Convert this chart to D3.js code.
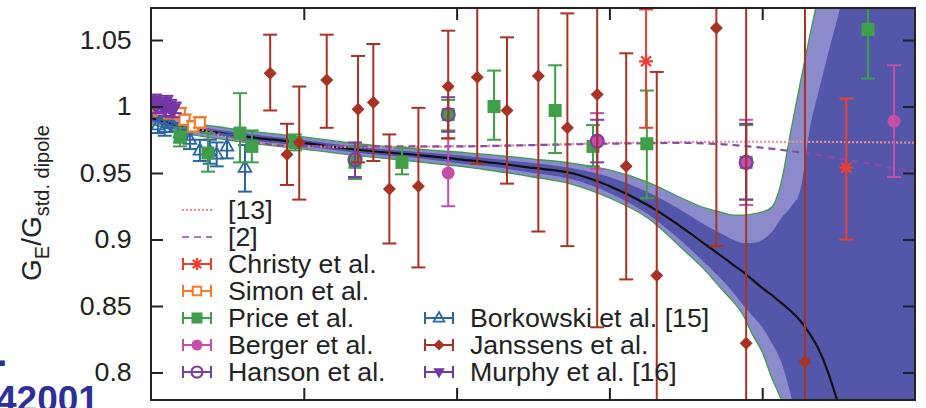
<!DOCTYPE html>
<html>
<head>
<meta charset="utf-8">
<script src="https://cdn.jsdelivr.net/npm/d3@7"></script>
<style>
  html, body { margin: 0; padding: 0; background: #fff; }
  svg { display: block; font-family: "Liberation Sans", Arial, Helvetica, sans-serif; }
</style>
</head>
<body>
<svg id="chart" width="926" height="408"></svg>
<script>
// ---------------- data ----------------
const yTicks = [0.8, 0.85, 0.9, 0.95, 1, 1.05];
const yTickLabels = ["0.8", "0.85", "0.9", "0.95", "1", "1.05"];
const xTicks = [0.2, 0.4, 0.6, 0.8];

// fit with statistical (inner) and total (outer) uncertainty bands, on a Q² grid
const bandQ = [0, 0.05, 0.1, 0.15, 0.2, 0.25, 0.3, 0.35, 0.4, 0.45, 0.5, 0.55, 0.6, 0.65, 0.7, 0.725,
  0.75, 0.7625, 0.775, 0.7875, 0.8, 0.8125, 0.825, 0.8375, 0.85, 0.8625, 0.875, 0.8875, 0.9, 0.95, 1.0];
const fitCentral = [0.9914, 0.9838, 0.9793, 0.9756, 0.9726, 0.9688, 0.9658, 0.9635, 0.9605, 0.9575, 0.9538,
  0.9500, 0.9402, 0.9259, 0.9071, 0.8966, 0.8861, 0.8808, 0.8756, 0.8696, 0.8636, 0.8582, 0.8523, 0.8462,
  0.8387, 0.8289, 0.8162, 0.7981, 0.7756, 0.6891, 0.5989];
const innerHi = [0.9944, 0.9861, 0.9816, 0.9778, 0.9748, 0.9711, 0.9680, 0.9658, 0.9635, 0.9605, 0.9575,
  0.9538, 0.9470, 0.9357, 0.9199, 0.9109, 0.9034, 0.8996, 0.8974, 0.8974, 0.8996, 0.9056, 0.9162, 0.9244,
  0.9372, 0.9838, 1.0139, 1.0425, 1.0695, 1.1929, 1.3057];
const innerLo = [0.9891, 0.9816, 0.9771, 0.9733, 0.9703, 0.9665, 0.9635, 0.9613, 0.9575, 0.9545, 0.9500,
  0.9455, 0.9350, 0.9192, 0.8959, 0.8823, 0.8680, 0.8598, 0.8508, 0.8425, 0.8342, 0.8222, 0.8079, 0.7831,
  0.7568, 0.7268, 0.6967, 0.6666, 0.6365, 0.5162, 0.4034];
const outerHi = [0.9966, 0.9883, 0.9838, 0.9801, 0.9771, 0.9733, 0.9703, 0.9680, 0.9658, 0.9635, 0.9605,
  0.9575, 0.9523, 0.9432, 0.9297, 0.9237, 0.9199, 0.9184, 0.9184, 0.9192, 0.9207, 0.9244, 0.9432, 0.9816,
  1.0184, 1.0538, 1.0876, 1.1252, 1.1628, 1.3056, 1.4560];
const outerLo = [0.9868, 0.9793, 0.9748, 0.9711, 0.9680, 0.9643, 0.9613, 0.9583, 0.9553, 0.9515, 0.9470,
  0.9417, 0.9312, 0.9162, 0.8906, 0.8771, 0.8606, 0.8530, 0.8432, 0.8282, 0.8154, 0.7959, 0.7793, 0.7568,
  0.7305, 0.7042, 0.6741, 0.6440, 0.6139, 0.4786, 0.3282];

// reference parametrisations
const lineQ = [0, 0.05, 0.1, 0.15, 0.2, 0.3, 0.4, 0.5, 0.6, 0.7, 0.75, 0.8, 0.85, 0.9, 0.95, 1.0];
const ref13 = [1.0, 0.986, 0.977, 0.972, 0.970, 0.9695, 0.970, 0.971, 0.9725, 0.9733, 0.9735, 0.9735,
  0.9734, 0.9733, 0.9731, 0.9728];
const ref2 = [1.0, 0.988, 0.978, 0.972, 0.970, 0.970, 0.970, 0.971, 0.972, 0.9726, 0.9715, 0.969, 0.9655,
  0.961, 0.956, 0.951];

// measurements: [Q², G_E/G_dipole, lower end of error bar, upper end of error bar]
const christy = [[0.648, 1.034, 0.984, 1.073], [0.910, 0.954, 0.900, 1.006]];
const simon = [[0.002, 1.001, 0.997, 1.005], [0.012, 0.997, 0.993, 1.001], [0.025, 0.995, 0.991, 0.999],
  [0.038, 0.995, 0.991, 0.999], [0.044, 0.990, 0.986, 0.994], [0.055, 0.985, 0.981, 0.989],
  [0.064, 0.988, 0.984, 0.992]];
const price = [[0.038, 0.977, 0.970, 0.984], [0.0746, 0.965, 0.951, 0.980], [0.1165, 0.980, 0.958, 1.010],
  [0.132, 0.970, 0.958, 0.982], [0.1885, 0.973, 0.967, 0.979], [0.267, 0.958, 0.9455, 0.970],
  [0.3285, 0.958, 0.949, 0.969], [0.389, 0.994, 0.982, 1.005], [0.449, 1.000, 0.975, 1.027],
  [0.529, 0.997, 0.965, 1.031], [0.5785, 0.970, 0.955, 0.986], [0.649, 0.972, 0.931, 1.012],
  [0.779, 0.958, 0.930, 0.986], [0.9385, 1.058, 1.021, 1.095]];
const berger = [[0.389, 0.950, 0.925, 0.976], [0.584, 0.974, 0.953, 0.995], [0.779, 0.958, 0.926, 0.990],
  [0.9725, 0.989, 0.947, 1.031]];
const hanson = [[0.267, 0.960, 0.947, 0.973], [0.389, 0.994, 0.981, 1.007], [0.584, 0.974, 0.958, 0.990],
  [0.779, 0.958, 0.930, 0.987]];
const borkowski = [[0.009, 0.986, 0.980, 0.992], [0.018, 0.984, 0.978, 0.990], [0.027, 0.987, 0.981, 0.993],
  [0.038, 0.980, 0.973, 0.987], [0.046, 0.982, 0.975, 0.989], [0.051, 0.975, 0.968, 0.982],
  [0.064, 0.967, 0.959, 0.975], [0.077, 0.966, 0.957, 0.975], [0.086, 0.964, 0.955, 0.973],
  [0.0995, 0.970, 0.961, 0.979], [0.123, 0.954, 0.936, 0.971]];
const janssens = [[0.156, 1.025, 0.997, 1.054], [0.178, 0.964, 0.941, 0.987], [0.194, 0.973, 0.930, 1.015],
  [0.230, 1.020, 0.984, 1.054], [0.271, 0.998, 0.958, 1.038], [0.291, 1.003, 0.959, 1.047],
  [0.312, 0.938, 0.897, 0.979], [0.350, 0.940, 0.879, 0.999], [0.389, 1.015, 0.976, 1.057],
  [0.427, 1.022, 0.957, 1.087], [0.466, 0.997, 0.942, 1.052], [0.507, 1.023, 0.906, 1.140],
  [0.545, 0.984, 0.895, 1.070], [0.584, 1.009, 0.834, 1.184], [0.622, 0.955, 0.870, 1.040],
  [0.662, 0.873, 0.720, 1.026], [0.740, 1.059, 0.895, 1.223], [0.779, 0.822, 0.500, 1.140],
  [0.856, 0.808, 0.480, 1.140]];
const murphy = [[0.002, 1.003, 0.999, 1.007], [0.005, 1.005, 1.001, 1.009], [0.007, 0.999, 0.995, 1.003],
  [0.012, 1.002, 0.998, 1.006], [0.016, 1.000, 0.996, 1.004], [0.018, 0.997, 0.993, 1.001],
  [0.020, 1.004, 1.000, 1.008], [0.025, 1.001, 0.997, 1.005], [0.028, 0.996, 0.992, 1.000],
  [0.031, 0.999, 0.995, 1.003]];

const legendLeft = ["[13]", "[2]", "Christy et al.", "Simon et al.", "Price et al.", "Berger et al.", "Hanson et al."];
const legendRight = ["Borkowski et al. [15]", "Janssens et al.", "Murphy et al. [16]"];

// ---------------- layout ----------------
const W = 926, H = 408;
const X0 = 151, X1 = 915, Y0 = 8, Y1 = 400;
const INK = "#222";
const FONT = "'Liberation Sans', Arial, Helvetica, sans-serif";
const STRETCH = 1.07;   // type is set slightly wide

const svg = d3.select("#chart");
const x = d3.scaleLinear().domain([0, 1]).range([X0, X1]);
const y = d3.scaleLinear().domain([0.77932, 1.07406]).range([Y1, Y0]);

svg.append("defs").append("clipPath").attr("id", "plotClip")
  .append("rect").attr("x", X0).attr("y", Y0).attr("width", X1 - X0).attr("height", Y1 - Y0);

const plot = svg.append("g").attr("clip-path", "url(#plotClip)");

// ---------------- fit bands ----------------
const bandRows = bandQ.map((q, i) => ({ q, c: fitCentral[i], il: innerLo[i], ih: innerHi[i], ol: outerLo[i], oh: outerHi[i] }));
const curve = d3.curveMonotoneX;
const area = (lo, hi) => d3.area().x(d => x(d.q)).y0(d => y(d[lo])).y1(d => y(d[hi])).curve(curve);
const edge = key => d3.line().x(d => x(d.q)).y(d => y(d[key])).curve(curve);

plot.append("path").datum(bandRows).attr("d", area("ol", "oh")).attr("fill", "#8b8bcb");
plot.append("path").datum(bandRows).attr("d", area("il", "ih")).attr("fill", "#5457a9");
["oh", "ol"].forEach(k => plot.append("path").datum(bandRows).attr("d", edge(k))
  .attr("fill", "none").attr("stroke", "#3f9c4c").attr("stroke-width", 1.3));
plot.append("path").datum(bandRows).attr("d", edge("c"))
  .attr("fill", "none").attr("stroke", "#111").attr("stroke-width", 2.2);

// ---------------- reference curves ----------------
const refLine = vals => d3.line().x((d, i) => x(lineQ[i])).y(d => y(d)).curve(curve)(vals);
plot.append("path").attr("d", refLine(ref13)).attr("fill", "none")
  .attr("stroke", "#f08a8a").attr("stroke-width", 2.2).attr("stroke-dasharray", "2,2");
plot.append("path").attr("d", refLine(ref2)).attr("fill", "none")
  .attr("stroke", "#8a4aa8").attr("stroke-width", 2.2).attr("stroke-dasharray", "7,5");

// ---------------- markers ----------------
const markers = {
  square: (g, c, r, filled) => g.append("rect").attr("x", -r).attr("y", -r).attr("width", 2 * r).attr("height", 2 * r)
    .attr("fill", filled ? c : "#fff").attr("stroke", c).attr("stroke-width", filled ? 0 : 2),
  circle: (g, c, r, filled) => g.append("circle").attr("r", r)
    .attr("fill", filled ? c : "none").attr("stroke", c).attr("stroke-width", filled ? 0 : 2.2),
  diamond: (g, c, r) => g.append("path").attr("d", `M0,${-r}L${r},0L0,${r}L${-r},0Z`).attr("fill", c),
  triUp: (g, c, r) => g.append("path")
    .attr("d", `M0,${-r}L${r * 0.9},${r * 0.6}L${-r * 0.9},${r * 0.6}Z`)
    .attr("fill", "none").attr("stroke", c).attr("stroke-width", 1.8),
  triDown: (g, c, r) => g.append("path")
    .attr("d", `M0,${r}L${r * 0.9},${-r * 0.6}L${-r * 0.9},${-r * 0.6}Z`).attr("fill", c),
  star: (g, c, r) => {
    const d = d3.range(4).map(k => {
      const a = k * Math.PI / 4, dx = r * Math.cos(a), dy = r * Math.sin(a);
      return `M${-dx},${-dy}L${dx},${dy}`;
    }).join("");
    g.append("path").attr("d", d).attr("fill", "none").attr("stroke", c).attr("stroke-width", 2.2);
  }
};

const seriesStyle = [
  { data: borkowski, color: "#2a66a4", marker: "triUp", r: 7, filled: false },
  { data: simon, color: "#f47a2c", marker: "square", r: 5, filled: false },
  { data: murphy, color: "#7435a6", marker: "triDown", r: 7.5, filled: true },
  { data: price, color: "#3f9f49", marker: "square", r: 6.5, filled: true },
  { data: berger, color: "#c44ea8", marker: "circle", r: 6.5, filled: true },
  { data: hanson, color: "#7d3fa2", marker: "circle", r: 6.5, filled: false },
  { data: janssens, color: "#a83224", marker: "diamond", r: 6.5, filled: true },
  { data: christy, color: "#ee3d2e", marker: "star", r: 7, filled: true }
];

const CAP = 7;
seriesStyle.forEach(s => {
  const g = plot.append("g");
  s.data.forEach(([q, v, lo, hi]) => {
    const px = x(q);
    const bar = g.append("g").attr("stroke", s.color).attr("stroke-width", 2).attr("fill", "none");
    bar.append("line").attr("x1", px).attr("x2", px).attr("y1", y(lo)).attr("y2", y(hi));
    [lo, hi].forEach(e => bar.append("line").attr("x1", px - CAP).attr("x2", px + CAP).attr("y1", y(e)).attr("y2", y(e)));
    const m = g.append("g").attr("transform", `translate(${px},${y(v)})`);
    markers[s.marker](m, s.color, s.r, s.filled);
  });
});

// ---------------- frame and ticks ----------------
const styleAxis = (g) => {
  g.select(".domain").remove();
  g.selectAll(".tick line").attr("stroke", INK).attr("stroke-width", 2);
  g.attr("font-family", FONT).attr("font-size", 25);
  g.selectAll(".tick text").attr("fill", INK).attr("transform", `scale(${STRETCH},1)`);
};
svg.append("g").attr("transform", `translate(${X0},0)`)
  .call(d3.axisLeft(y).tickValues(yTicks).tickSize(-12).tickPadding(18).tickFormat((d, i) => yTickLabels[i]))
  .call(styleAxis);
svg.append("g").attr("transform", `translate(${X1},0)`)
  .call(d3.axisRight(y).tickValues(yTicks).tickSize(-12).tickFormat(""))
  .call(styleAxis);
svg.append("g").attr("transform", `translate(0,${Y0})`)
  .call(d3.axisTop(x).tickValues(xTicks).tickSize(-12).tickFormat(""))
  .call(styleAxis);
svg.append("g").attr("transform", `translate(0,${Y1})`)
  .call(d3.axisBottom(x).tickValues(xTicks).tickSize(-12).tickFormat(""))
  .call(styleAxis);
svg.append("rect").attr("x", X0).attr("y", Y0).attr("width", X1 - X0).attr("height", Y1 - Y0)
  .attr("fill", "none").attr("stroke", INK).attr("stroke-width", 2);

// ---------------- y axis title ----------------
const title = svg.append("text").attr("transform", "translate(41,203) rotate(-90)")
  .attr("text-anchor", "middle").attr("font-family", FONT).attr("fill", INK).attr("font-size", 28);
title.append("tspan").text("G");
title.append("tspan").attr("font-size", 20).attr("dy", 8).text("E");
title.append("tspan").attr("dy", -8).text("/G");
title.append("tspan").attr("font-size", 20).attr("dy", 8).text("std. dipole");

// ---------------- legend ----------------
const legend = svg.append("g").attr("font-family", FONT).attr("font-size", 25).attr("fill", INK);
const ROW = 27;
const sampleStyles = [
  { line: { color: "#f08a8a", dash: "2,2" } },
  { line: { color: "#a678c0", dash: "7,5" } },
  seriesStyle[7], seriesStyle[1], seriesStyle[3], seriesStyle[4], seriesStyle[5]
];
const rightStyles = [seriesStyle[0], seriesStyle[6], seriesStyle[2]];

function legendEntry(cx, cy, label, st) {
  const g = legend.append("g");
  if (st.line) {
    g.append("line").attr("x1", cx - 15).attr("x2", cx + 15).attr("y1", cy).attr("y2", cy)
      .attr("stroke", st.line.color).attr("stroke-width", 2.2).attr("stroke-dasharray", st.line.dash);
  } else {
    const b = g.append("g").attr("stroke", st.color).attr("stroke-width", 2);
    b.append("line").attr("x1", cx - 14).attr("x2", cx + 14).attr("y1", cy).attr("y2", cy);
    [-14, 14].forEach(o => b.append("line").attr("x1", cx + o).attr("x2", cx + o).attr("y1", cy - 6).attr("y2", cy + 6));
    const m = g.append("g").attr("transform", `translate(${cx},${cy})`);
    markers[st.marker](m, st.color, st.r * 0.85, st.filled);
  }
  g.append("text").attr("transform", `translate(${cx + 31},${cy + 9}) scale(${STRETCH},1)`).text(label);
}
legendLeft.forEach((t, i) => legendEntry(197, 210 + i * ROW, t, sampleStyles[i]));
legendRight.forEach((t, i) => legendEntry(439, 318 + i * ROW, t, rightStyles[i]));

// ---------------- citation fragment at lower left ----------------
const cite = svg.append("g").attr("font-family", FONT).attr("font-weight", "bold").attr("fill", "#2f2f98").attr("font-size", 37);
cite.append("text").attr("x", -3).attr("y", 366).text(".");
cite.append("text").attr("x", -4).attr("y", 412).text("42001");
</script>
</body>
</html>
